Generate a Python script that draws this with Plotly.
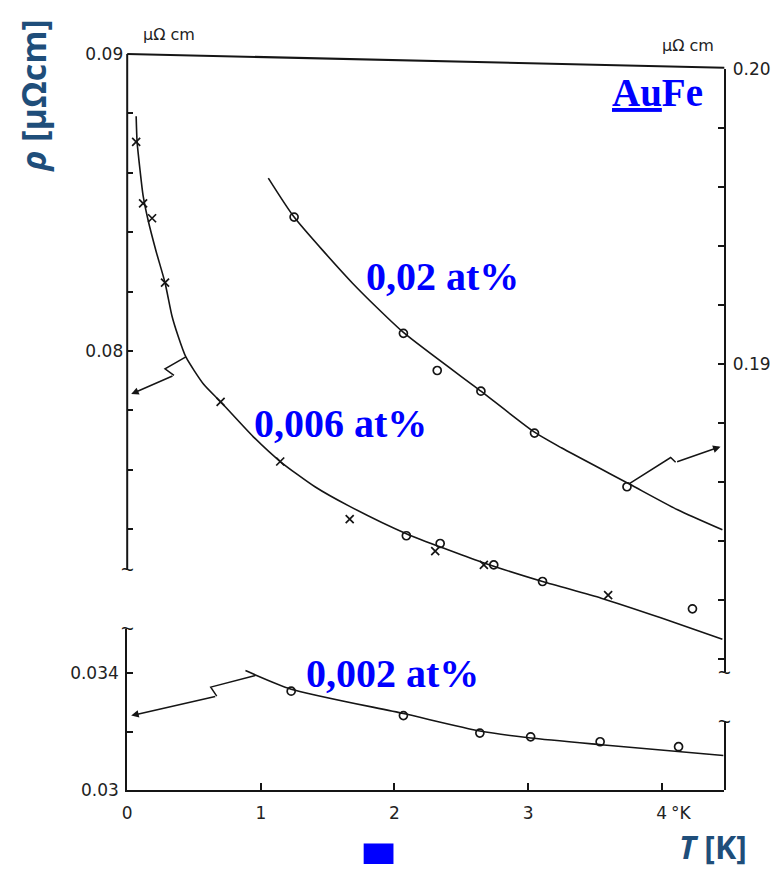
import plotly.graph_objects as go

W, H = 773, 874

# ---------------- data ----------------
# 0.006 at% (left upper axis, muOhm cm)
T006_x = [0.067, 0.119, 0.186, 0.283, 0.699, 1.145, 1.665, 2.305, 2.669, 3.599]
R006_x = [0.08704, 0.08497, 0.08447, 0.08230, 0.07829, 0.07628, 0.07434, 0.07326, 0.07280, 0.07178]
T006_o = [2.089, 2.342, 2.743, 3.108, 4.230]
R006_o = [0.07378, 0.07352, 0.07280, 0.07224, 0.07132]
T006_fit = [0.067, 0.074, 0.097, 0.119, 0.156, 0.216, 0.283, 0.335, 0.379, 0.439, 0.572, 0.699, 0.944,
            1.145, 1.405, 1.665, 2.089, 2.654, 3.108, 3.547, 3.993, 4.454]
R006_fit = [0.08790, 0.08704, 0.08605, 0.08523, 0.08441, 0.08336, 0.08230, 0.08118, 0.08053, 0.07980,
            0.07888, 0.07829, 0.07711, 0.07628, 0.07543, 0.07477, 0.07385, 0.07289, 0.07224, 0.07168,
            0.07102, 0.07030]

# 0.02 at% (right upper axis)
T02_o = [1.249, 2.067, 2.320, 2.647, 3.048, 3.740]
R02_o = [0.19497, 0.19103, 0.18977, 0.18907, 0.18765, 0.18583]
T02_fit = [1.056, 1.249, 1.688, 2.067, 2.647, 3.048, 3.249, 3.755, 4.119, 4.454]
R02_fit = [0.19629, 0.19497, 0.19272, 0.19106, 0.18907, 0.18768, 0.18715, 0.18593, 0.18505, 0.18437]

# 0.002 at% (left lower axis)
T002_o = [1.227, 2.067, 2.639, 3.019, 3.539, 4.126]
R002_o = [0.03339, 0.03255, 0.03195, 0.03182, 0.03165, 0.03148]
T002_fit = [0.885, 1.227, 2.067, 2.639, 3.019, 3.547, 4.461]
R002_fit = [0.03410, 0.03346, 0.03262, 0.03202, 0.03178, 0.03155, 0.03118]

# pointer arrows (zig-zag) from curves to their axes
arrL_T = [0.439, 0.283, 0.350]; arrL_R = [0.07980, 0.07940, 0.07918]; arrL_tip = (0.03, 0.07855)
arrR_T = [3.755, 4.067, 4.104]; arrR_R = [0.18593, 0.18682, 0.18666]; arrR_tip = (4.44, 0.18719)
arrB_T = [0.959, 0.625, 0.670]; arrB_R = [0.03393, 0.03353, 0.03322]; arrB_tip = (0.03, 0.03255)

# axes / ticks
x_ticks = [0, 1, 2, 3, 4]
x_labels = ["0", "1", "2", "3", "4"]
yL_ticks = [0.074, 0.076, 0.078, 0.080, 0.082, 0.084, 0.086, 0.088, 0.090]
yL_labels = ["", "", "", "0.08", "", "", "", "", "0.09"]
yR_ticks = [0.180, 0.182, 0.184, 0.186, 0.188, 0.190, 0.192, 0.194, 0.196, 0.198, 0.200]
yR_labels = ["", "", "", "", "", "0.19", "", "", "", "", "0.20"]
yB_ticks = [0.030, 0.032, 0.034]
yB_labels = ["0.03", "", "0.034"]

# ---------------- layout helpers ----------------
def px(x):
    return x / W

def py(y):
    return 1 - y / H

X0, X1 = 123, 724
INK = "#151515"
TICKFONT = dict(family="DejaVu Sans, Liberation Sans", size=17, color="#222")

fig = go.Figure()

line_style = dict(color=INK, width=1.6, shape="spline", smoothing=0.6)
cross = dict(symbol="x-thin", size=8, line=dict(width=1.7, color=INK), color=INK)
circ = dict(symbol="circle-open", size=8, line=dict(width=1.7, color=INK), color=INK)

# 0.006 at%
fig.add_trace(go.Scatter(x=T006_fit, y=R006_fit, mode="lines", line=line_style, xaxis="x", yaxis="y"))
fig.add_trace(go.Scatter(x=T006_x, y=R006_x, mode="markers", marker=cross, xaxis="x", yaxis="y"))
fig.add_trace(go.Scatter(x=T006_o, y=R006_o, mode="markers", marker=circ, xaxis="x", yaxis="y"))
fig.add_trace(go.Scatter(x=arrL_T, y=arrL_R, mode="lines", line=dict(color=INK, width=1.5), xaxis="x", yaxis="y"))

# 0.02 at%
fig.add_trace(go.Scatter(x=T02_fit, y=R02_fit, mode="lines", line=line_style, xaxis="x", yaxis="y2"))
fig.add_trace(go.Scatter(x=T02_o, y=R02_o, mode="markers", marker=circ, xaxis="x", yaxis="y2"))
fig.add_trace(go.Scatter(x=arrR_T, y=arrR_R, mode="lines", line=dict(color=INK, width=1.5), xaxis="x", yaxis="y2"))

# 0.002 at%
fig.add_trace(go.Scatter(x=T002_fit, y=R002_fit, mode="lines", line=line_style, xaxis="x", yaxis="y3"))
fig.add_trace(go.Scatter(x=T002_o, y=R002_o, mode="markers", marker=circ, xaxis="x", yaxis="y3"))
fig.add_trace(go.Scatter(x=arrB_T, y=arrB_R, mode="lines", line=dict(color=INK, width=1.5), xaxis="x", yaxis="y3"))

# invisible trace to create the lower-right axis
fig.add_trace(go.Scatter(x=[0], y=[0.030], mode="markers", marker=dict(opacity=0), xaxis="x", yaxis="y4"))

axis_common = dict(showgrid=False, zeroline=False, showline=True, linecolor=INK, linewidth=2,
                   ticks="inside", tickcolor=INK, tickwidth=1.5, ticklen=6, tickfont=TICKFONT,
                   ticklabelstandoff=3, fixedrange=True)
def ax(**over):
    d = dict(axis_common)
    d.update(over)
    return d

fig.update_layout(
    width=W, height=H,
    margin=dict(l=0, r=0, t=0, b=0),
    paper_bgcolor="white", plot_bgcolor="rgba(0,0,0,0)",
    showlegend=False,
    xaxis=ax(domain=[px(X0), px(X1)], range=[0, (X1 - X0) / 134.5], anchor="y3",
             tickmode="array", tickvals=x_ticks, ticktext=x_labels, ticklen=7, ticklabelstandoff=7),
    yaxis=ax(domain=[py(678), py(45)], range=[0.09 - 633 / 30400, 0.09], anchor="x", showline=False,
             tickmode="array", tickvals=yL_ticks, ticktext=yL_labels),
    yaxis2=ax(domain=[py(678), py(60)], range=[0.20 - 618 / 30200, 0.20], anchor="x", side="right",
              tickmode="array", tickvals=yR_ticks, ticktext=yR_labels),
    yaxis3=ax(domain=[py(798), py(633)], range=[0.03, 0.03 + 165 / 29750], anchor="x",
              tickmode="array", tickvals=yB_ticks, ticktext=yB_labels),
    yaxis4=ax(domain=[py(798), py(728)], range=[0.03, 0.03 + 70 / 29750], anchor="x", side="right",
              showticklabels=False, ticks=""),
)

# left upper axis line (ends at the break) and skewed top frame line (as in the scan)
fig.add_shape(type="line", xref="paper", yref="paper", x0=px(X0), y0=py(45), x1=px(X0), y1=py(573),
              line=dict(color=INK, width=2))
fig.add_shape(type="line", xref="paper", yref="paper", x0=px(X0), y0=py(45), x1=px(X1), y1=py(59),
              line=dict(color=INK, width=2))
# blue square at the bottom
fig.add_shape(type="rect", xref="paper", yref="paper", x0=px(361), x1=px(391), y0=0, y1=py(853),
              line=dict(width=0), fillcolor="#0000FF")

# arrow heads
for tip, start, yr in [(arrL_tip, (arrL_T[-1], arrL_R[-1]), "y"),
                       (arrR_tip, (arrR_T[-1], arrR_R[-1]), "y2"),
                       (arrB_tip, (arrB_T[-1], arrB_R[-1]), "y3")]:
    fig.add_annotation(x=tip[0], y=tip[1], ax=start[0], ay=start[1], xref="x", yref=yr,
                       axref="x", ayref=yr, text="", showarrow=True, arrowhead=2, arrowsize=1,
                       arrowwidth=1.5, arrowcolor=INK)

# axis break marks
for (bx, by) in [(X0, 573), (X0, 633), (X1, 678), (X1, 728)]:
    fig.add_annotation(x=px(bx), y=py(by), xref="paper", yref="paper", text="~", showarrow=False,
                       font=dict(family="Liberation Sans", size=22, color=INK), xanchor="center", yanchor="middle")

# unit labels
for ux, uy in [(165, 25), (687, 36)]:
    fig.add_annotation(x=px(ux), y=py(uy), xref="paper", yref="paper", text="μΩ cm", showarrow=False,
                       xanchor="center", yanchor="middle",
                       font=dict(family="DejaVu Sans, Liberation Sans", size=16, color="#222"))
fig.add_annotation(x=4, y=py(822), xref="x", yref="paper", text="°K", showarrow=False, xshift=7,
                   xanchor="left", yanchor="middle", font=TICKFONT)

# blue concentration labels
BLUE = "#0000FF"
SERIF = "Liberation Serif, Times New Roman"
for txt, cx, cy in [("<b>0,02 at%</b>", 440, 273), ("<b>0,006 at%</b>", 338, 423), ("<b>0,002 at%</b>", 390, 679)]:
    fig.add_annotation(x=px(cx), y=py(cy), xref="paper", yref="paper", text=txt, showarrow=False,
                       font=dict(family=SERIF, size=40, color=BLUE), xanchor="center", yanchor="middle")
fig.add_annotation(x=px(657), y=py(84), xref="paper", yref="paper", text="<b><u>Au</u>Fe</b>", showarrow=False,
                   font=dict(family=SERIF, size=39, color=BLUE), xanchor="center", yanchor="middle")

# axis titles
TITLE_BLUE = "#1F4E7A"
fig.add_annotation(x=px(28), y=py(88), xref="paper", yref="paper", text="<b><i>ρ</i> [μΩcm]</b>",
                   textangle=-90, showarrow=False, xanchor="center", yanchor="middle",
                   font=dict(family="Open Sans, Liberation Sans", size=34, color=TITLE_BLUE))
fig.add_annotation(x=px(713), y=py(856), xref="paper", yref="paper", text="<b><i>T</i> [K]</b>",
                   showarrow=False, xanchor="center", yanchor="middle",
                   font=dict(family="Open Sans, Liberation Sans", size=32, color=TITLE_BLUE))

fig.write_html("out.html")
